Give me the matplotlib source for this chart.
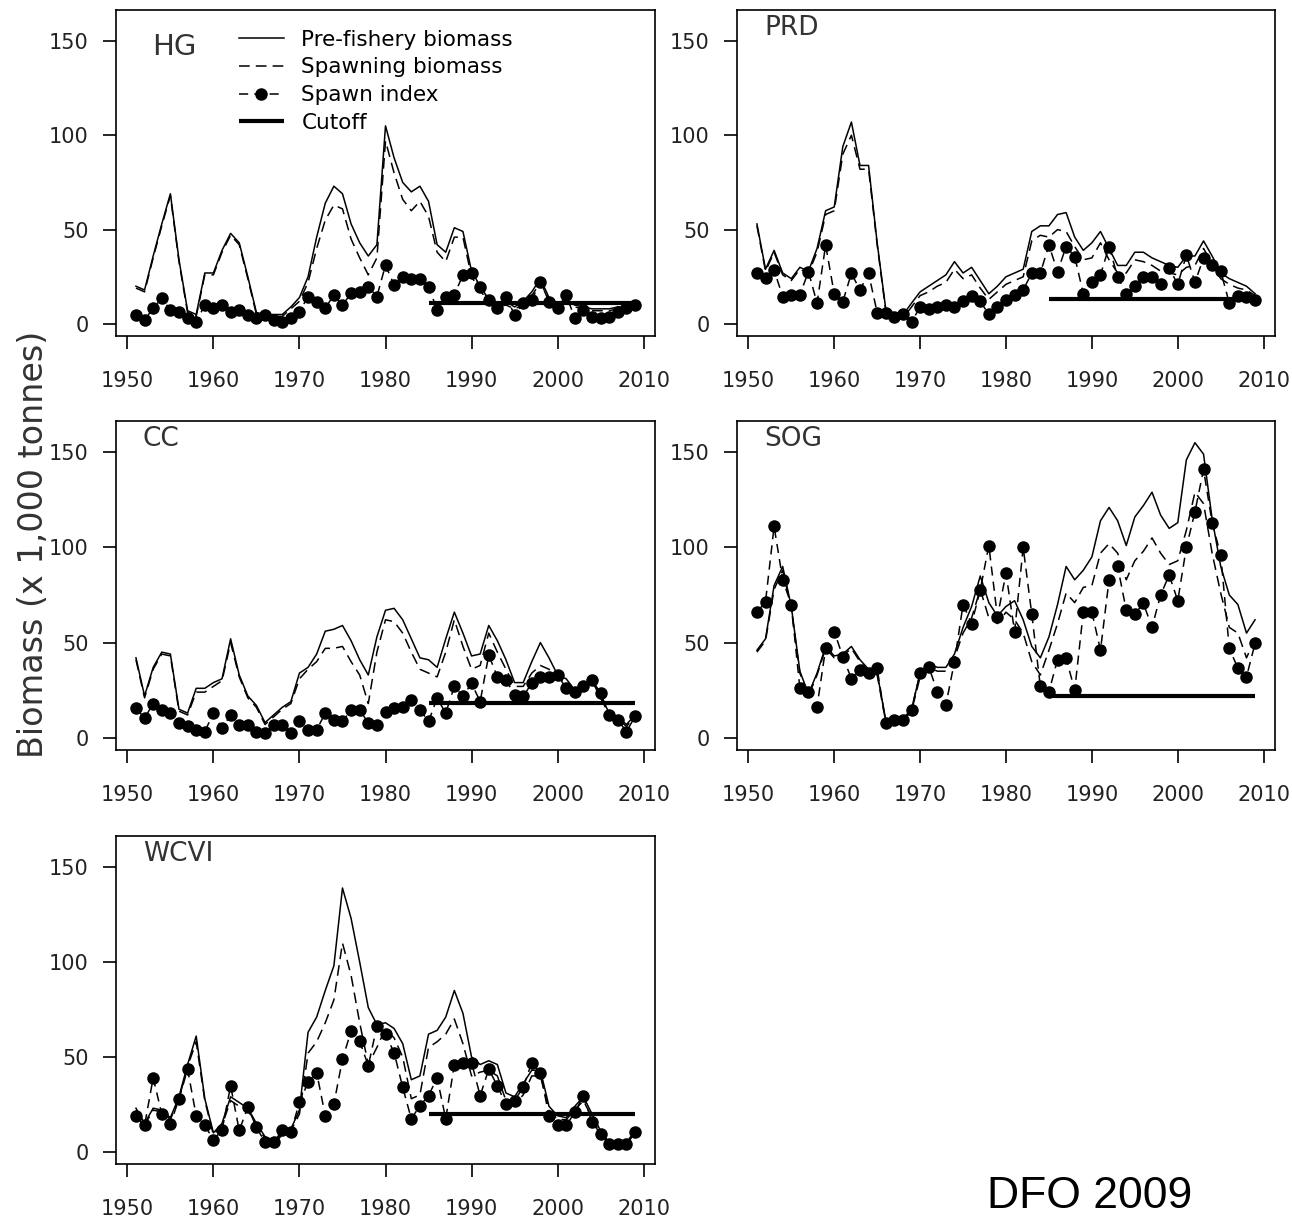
# Herring stock panels: pre-fishery / spawning biomass, spawn index and cutoff
import matplotlib
matplotlib.use("Agg")
import matplotlib.pyplot as plt

plt.rcParams['font.family'] = ['DejaVu Sans']

# ------------------------------
# Data (thousand tonnes)
# ------------------------------
years = list(range(1951, 2010))
cutoff_years = [1985, 2009]

hg_pre = [20, 18, 36, 53, 69, 34, 7, 5, 27, 27, 39, 48, 43, 25, 6, 5, 5, 5, 9, 14,
          25, 46, 64, 73, 69, 53, 43, 36, 42, 105, 88, 75, 70, 73, 65, 42, 38, 51, 49, 28,
          20, 13, 11, 12, 9, 12, 17, 24, 14, 11, 12, 10, 9, 8, 8, 8, 9, 9, 10]
hg_spawn = [19, 17, 35, 52, 68, 33, 6, 4, 26, 26, 38, 47, 42, 24, 5, 4, 4, 4, 8, 12,
            22, 40, 55, 63, 61, 45, 35, 26, 35, 97, 80, 66, 60, 65, 57, 38, 33, 46, 46, 25,
            18, 11, 9, 10, 8, 10, 15, 22, 13, 10, 11, 9, 8, 7, 7, 7, 8, 8, 9]
hg_index = [4.8, 2.1, 8.3, 13.6, 7.4, 6.5, 3, 1.2, 10, 8.3, 10, 6.5, 7.4, 4.8, 3, 4.8, 2.1, 1.2, 3, 6.5,
            14.5, 11.8, 8.3, 15.4, 10, 16.2, 17, 19.8, 14.5, 31.2, 20.6, 25, 24, 24, 19.8, 7.4, 14.5, 15.4, 26, 26.8,
            19.8, 12.7, 8.3, 14.5, 4.8, 11, 12.7, 22.4, 11.8, 8.3, 15.4, 3, 7.4, 3.9, 3, 3.9, 6.5, 8.3, 10]
hg_cutoff = 11

prd_pre = [53, 29, 39, 27, 24, 30, 28, 40, 60, 62, 94, 107, 84, 84, 43, 8, 5.6, 4.8, 11, 17,
           20, 23, 26, 33, 27, 30, 23, 16, 20, 25, 27, 29, 49, 52, 52, 58, 59, 46, 39, 43,
           49, 40, 31, 31, 38, 38, 35, 33, 31, 30, 36, 36, 44, 36, 27, 24, 22, 20, 16]
prd_spawn = [52, 28, 38, 26, 23, 29, 27, 38, 58, 60, 90, 100, 82, 82, 42, 7, 4, 3, 9, 15,
             17, 20, 22, 29, 24, 26, 19, 13, 17, 21, 23, 25, 44, 47, 46, 50, 49, 41, 34, 35,
             43, 34, 27, 27, 34, 33, 31, 28, 27, 26, 30, 31, 40, 32, 24, 21, 19, 18, 15]
prd_index = [27, 24.5, 28.5, 14.5, 15.4, 15.4, 27.7, 11, 41.8, 16, 11.8, 26.8, 18, 26.8, 6, 6, 3.5, 5, 1, 9,
             8, 9, 10, 9, 12, 15, 12, 5, 9, 12.7, 15.4, 18, 27, 27, 41.8, 27.7, 41, 35.7, 16, 22.4,
             26, 41, 25, 16, 20, 25, 25, 21, 29.5, 21, 36.5, 22, 35, 31, 28, 11, 15, 14.5, 12.7]
prd_cutoff = 13

cc_pre = [42, 22, 37, 45, 44, 15, 13, 26, 26, 29, 31, 52, 33, 22, 17, 8, 12, 16, 19, 34,
          37, 44, 56, 57, 59, 51, 41, 33, 53, 67, 68, 62, 52, 42, 41, 37, 52, 66, 55, 43,
          44, 59, 51, 41, 29, 29, 40, 50, 42, 33, 31, 25, 28, 31, 22, 13, 11, 7, 12]
cc_spawn = [41, 21, 36, 44, 43, 14, 12, 24, 24, 27, 30, 50, 32, 21, 16, 7, 11, 15, 18, 31,
            36, 40, 47, 47, 48, 40, 33, 18, 45, 62, 61, 55, 45, 36, 34, 32, 45, 62, 48, 36,
            38, 55, 45, 36, 27, 27, 34, 38, 36, 32, 29, 24, 27, 30, 21, 12, 10, 6, 11]
cc_index = [15.6, 10.3, 18, 14.7, 13, 7.7, 6, 4.2, 3.3, 13, 5, 12, 6.8, 6.8, 3.3, 2.4, 6.8, 6.8, 2.4, 8.6,
            4.2, 4.2, 13, 9.4, 8.6, 14.7, 14.7, 7.7, 6.8, 13.8, 15.6, 16.4, 20, 14.7, 8.6, 20.8, 13, 27, 21.7, 28.7,
            19, 43.5, 32, 30.4, 22.6, 21.7, 28.7, 32, 32, 33, 26, 24.3, 27, 30.4, 23.4, 12, 9.4, 3.3, 11.2]
cc_cutoff = 18.5

sog_pre = [46, 52, 80, 90, 69, 35, 23, 34, 48, 43, 44, 48, 41, 36, 34, 9.4, 9.4, 10, 15, 34,
           39, 37, 37, 44, 58, 69, 85, 71, 64, 69, 72, 62, 48, 42, 53, 70, 90, 83, 88, 95,
           114, 121, 114, 101, 116, 122, 129, 117, 110, 113, 146, 155, 149, 115, 90, 75, 70, 55, 62]
sog_spawn = [45, 51, 78, 88, 68, 34, 22, 33, 47, 42, 43, 47, 40, 35, 33, 8.5, 8.5, 9, 14, 32,
             37, 35, 35, 42, 55, 63, 78, 63, 60, 66, 62, 55, 40, 33, 46, 60, 76, 71, 79, 80,
             97, 102, 97, 83, 93, 98, 105, 97, 91, 93, 109, 129, 123, 97, 76, 58, 55, 42, 52]
sog_index = [66, 71.5, 111, 83, 70, 26, 24, 16.4, 47, 55.8, 42.7, 31, 35.7, 34, 36.5, 7.7, 9.4, 9.4, 14.7, 34,
             37.4, 24.3, 17.3, 40, 70, 60, 77.6, 101, 63.6, 86.4, 55.8, 100, 65, 27, 24.3, 41, 41.8, 25, 66, 66,
             46, 83, 90, 67, 65, 70.6, 58, 75, 85.5, 72, 100, 118.7, 141, 113, 96, 47, 36.5, 32, 49.6]
sog_cutoff = 22

wcvi_pre = [23, 15, 23, 22, 18, 29, 46, 61, 28, 10, 15, 29, 26, 23, 15, 8, 5, 10, 12, 22,
            63, 71, 85, 98, 139, 123, 100, 76, 67, 68, 65, 57, 38, 40, 62, 64, 71, 85, 73, 50,
            46, 48, 46, 31, 29, 36, 43, 43, 24, 19, 18, 24, 29, 20, 11, 5, 4.3, 5, 11]
wcvi_spawn = [22, 14, 22, 21, 17, 28, 45, 58, 27, 9, 14, 27, 24, 22, 14, 7, 4, 9, 11, 20,
              52, 58, 68, 80, 110, 93, 68, 46, 55, 65, 60, 50, 28, 30, 55, 58, 62, 70, 57, 40,
              42, 43, 40, 27, 25, 30, 40, 40, 22, 17, 17, 22, 27, 18, 9, 4, 3, 4, 10]
wcvi_index = [19, 13.9, 39, 20, 14.7, 27.8, 43.5, 19, 13.9, 6.5, 11.3, 34.8, 11.3, 23.5, 13, 5, 5, 11.3, 10.4, 26.1,
              36.6, 41.8, 19, 25.2, 48.8, 63.6, 58.4, 45.3, 66.2, 61.9, 52.3, 34, 17.4, 24.3, 29.6, 39, 17.4, 46, 47, 47,
              29.6, 43.5, 34.8, 25, 27, 34, 47, 41.8, 19, 13.9, 13.9, 20.8, 29.6, 15.6, 9.5, 4.3, 4.3, 4.3, 10.4]
wcvi_cutoff = 20

# ------------------------------
# Layout (pixel boxes: left, top, right, bottom)
# ------------------------------
W, H = 1292, 1223
panels = [
    ("HG", hg_pre, hg_spawn, hg_index, hg_cutoff, (116, 10, 655, 336)),
    ("PRD", prd_pre, prd_spawn, prd_index, prd_cutoff, (737, 10, 1275, 336)),
    ("CC", cc_pre, cc_spawn, cc_index, cc_cutoff, (116, 421, 655, 750)),
    ("SOG", sog_pre, sog_spawn, sog_index, sog_cutoff, (737, 421, 1275, 750)),
    ("WCVI", wcvi_pre, wcvi_spawn, wcvi_index, wcvi_cutoff, (116, 836, 655, 1164)),
]


def draw_panel(ax, name, pre, spawn, index, cutoff):
    l1, = ax.plot(years, pre, color='black', lw=1.1, label='Pre-fishery biomass')
    l2, = ax.plot(years, spawn, color='black', lw=1.1, dashes=(7, 4),
                  label='Spawning biomass')
    l3, = ax.plot(years, index, color='black', lw=1.1, dashes=(6, 4),
                  marker='o', ms=8, label='Spawn index')
    l4, = ax.plot(cutoff_years, [cutoff, cutoff], color='black', lw=3,
                  solid_capstyle='butt', label='Cutoff')
    ax.set_xlim(1948.68, 2011.32)
    ax.set_ylim(-6.4, 166.4)
    ax.set_xticks(range(1950, 2011, 10))
    ax.set_yticks([0, 50, 100, 150])
    ax.tick_params(axis='both', direction='out', length=9.5, width=1.2,
                   labelsize=15, labelcolor='#222222')
    ax.tick_params(axis='x', pad=16)
    ax.tick_params(axis='y', pad=10)
    for sp in ax.spines.values():
        sp.set_linewidth(1.2)
    return [l1, l2, l3, l4]


fig = plt.figure(figsize=(W / 100, H / 100), dpi=100)

for name, pre, spawn, index, cutoff, (l, t, r, b) in panels:
    ax = fig.add_axes([l / W, 1 - b / H, (r - l) / W, (b - t) / H])
    handles = draw_panel(ax, name, pre, spawn, index, cutoff)
    if name == "HG":
        ax.text(0.067, 0.885, name, transform=ax.transAxes, fontsize=21,
                color='#333333', ha='left', va='center')
        ax.legend(handles=handles, loc='upper left', bbox_to_anchor=(0.228, 0.94),
                  frameon=False, fontsize=15.5, handlelength=2.1, handletextpad=0.8,
                  labelspacing=0.36, borderpad=0, borderaxespad=0)
    else:
        ax.text(0.05, 0.945, name, transform=ax.transAxes, fontsize=19,
                color='#333333', ha='left', va='center')

fig.text(0.026, 0.555, "Biomass (x 1,000 tonnes)", rotation=90, fontsize=24,
         color='#333333', ha='center', va='center')
fig.text(1090 / W, 1 - 1196 / H, "DFO 2009", fontsize=32, family=['Liberation Sans'],
         ha='center', va='center')

fig.savefig("out.png", dpi=100)
